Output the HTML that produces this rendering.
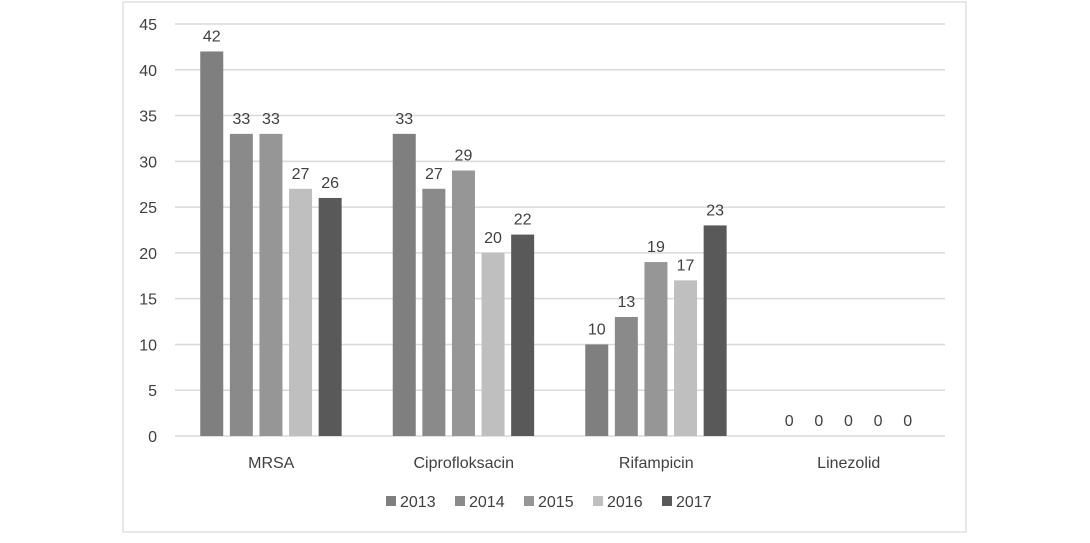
<!DOCTYPE html>
<html><head><meta charset="utf-8"><style>
body{margin:0;background:#fff;font-family:"Liberation Sans",sans-serif}
svg text{font-family:"Liberation Sans",sans-serif;fill:#404040}
</style></head><body>
<svg width="1090" height="538">
<rect x="123" y="2" width="843" height="530" fill="#fff" stroke="#d0d0d0"/>
<g id="grid"></g><g id="bars"></g><g id="labels"></g><g id="legend"></g>
</svg>
<script>
const categories=["MRSA","Ciprofloksacin","Rifampicin","Linezolid"];
const years=["2013","2014","2015","2016","2017"];
const s2013=[42,33,10,0];
const s2014=[33,27,13,0];
const s2015=[33,29,19,0];
const s2016=[27,20,17,0];
const s2017=[26,22,23,0];
const yTicks=[0,5,10,15,20,25,30,35,40,45];
const series=[s2013,s2014,s2015,s2016,s2017];
const colors=["#7f7f7f","#8a8a8a","#969696","#bfbfbf","#595959"];
const NS="http://www.w3.org/2000/svg";
const y0=436,pxPer=(436-24)/45,x0=175,x1=945,gw=(x1-x0)/categories.length;
const Y=v=>y0-v*pxPer;
function mk(tag,attrs,parent,text){const e=document.createElementNS(NS,tag);for(const k in attrs)e.setAttribute(k,attrs[k]);if(text!==undefined)e.textContent=text;document.getElementById(parent).appendChild(e);return e;}
yTicks.forEach(t=>{
 const l=mk("line",{x1:x0,x2:x1,y1:Y(t),y2:Y(t),stroke:"#d9d9d9","stroke-width":1.5},"grid");
 
 
 const tx=mk("text",{x:157,y:Y(t)+6,"text-anchor":"end","font-size":16},"grid",t);
 
 
});
categories.forEach((c,i)=>{
 const cx=x0+gw*(i+0.5);
 const tx=mk("text",{x:cx,y:468,"text-anchor":"middle","font-size":16},"labels",c);
 
 
 series.forEach((s,j)=>{
  const bx=cx-71+j*29.6,v=s[i];
  if(v>0){const r=mk("rect",{x:bx,y:Y(v),width:23,height:y0-Y(v),fill:colors[j]},"bars");
  
  }
  const t=mk("text",{x:bx+11.5,y:Y(v)-10,"text-anchor":"middle","font-size":16},"labels",v);
  
  
 });
});
years.forEach((yr,j)=>{
 const lx=386+j*69;
 const r=mk("rect",{x:lx,y:496,width:10,height:10,fill:colors[j]},"legend");
 
 
 const t=mk("text",{x:lx+14,y:507,"font-size":16},"legend",yr);
 
 
});
</script>
</body></html>
